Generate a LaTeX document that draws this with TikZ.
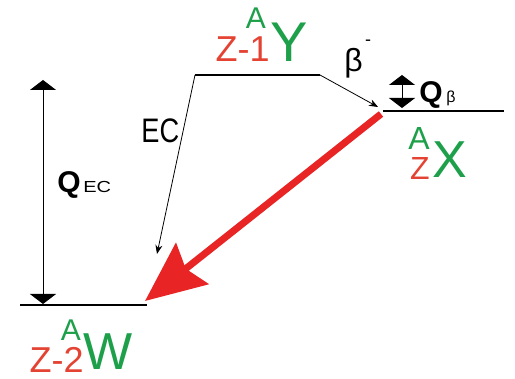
\documentclass[tikz,border=0pt]{standalone}
\usepackage{fontspec}
\setmainfont{Liberation Sans}
\newfontfamily\narrowfont[FakeStretch=0.8]{Liberation Sans}
\newfontfamily\widefont[FakeStretch=1.25]{Liberation Sans}
\usetikzlibrary{positioning,arrows.meta}
\definecolor{nucgreen}{RGB}{30,160,75}
\definecolor{nucred}{RGB}{228,66,50}
\definecolor{decayred}{RGB}{232,36,36}

\begin{document}
\begin{tikzpicture}[x=0.5pt,y=-0.5pt,
  lvl/.style={line width=1pt},
  fine/.style={-{Stealth[length=4.5pt,width=3.5pt]},line width=0.4pt},
  qarr/.style={{Triangle[width=13pt,length=5pt]}-{Triangle[width=13pt,length=5pt]},line width=0.5pt},
  decay/.style={-{Stealth[length=30pt,width=26pt,inset=4pt]},line width=3.5pt,draw=decayred},
  elem/.style={inner sep=0pt,text=nucgreen,font=\fontsize{26}{26}\selectfont},
  mass/.style={inner sep=0pt,text=nucgreen,font=\fontsize{15}{15}\selectfont},
  charge/.style={inner sep=0pt,text=nucred,font=\fontsize{18}{18}\selectfont},
  qlab/.style={inner sep=0pt,font=\bfseries\fontsize{15}{15}\selectfont},
  sub/.style={inner sep=0pt,font=\fontsize{8}{8}\selectfont},
]
\useasboundingbox (0,0) rectangle (515,379);

% Energy levels
\coordinate (Wl) at (20,305);  \coordinate (Wr) at (147,305);
\coordinate (Xl) at (383,111); \coordinate (Xr) at (504,111);
\coordinate (Yl) at (195,75);  \coordinate (Yr) at (320,75);
\draw[lvl] (Wl) -- (Wr);
\draw[lvl] (Xl) -- (Xr);
\draw[line width=0.6pt] (Yl) -- (Yr);

% Decay arrows
\coordinate (ECend) at (157,254);
\coordinate (Xstart) at (381,114);
\coordinate (Wtip) at (145,301);
\draw[fine] (Yl) -- (ECend);
\draw[fine] (Yr) -- (378,107);
\draw[decay] (Xstart) -- (Wtip);

% Q values
\coordinate (QECtop) at (43,80);  \coordinate (QECbot) at (43,304);
\coordinate (Qbtop) at (402,75);  \coordinate (Qbbot) at (402,108);
\draw[qarr] (QECtop) -- (QECbot);
\draw[qarr] (Qbtop) -- (Qbbot);
\node[qlab,anchor=base west] (QEC) at (57,193) {Q};
\node[sub,anchor=base west,font=\widefont\fontsize{8}{8}\selectfont] (QECsub) at (83,193) {EC};
\node[qlab,anchor=base west] (Qb) at (419,103) {Q};
\node[sub,anchor=base west] (Qbsub) at (446,103) {β};

% Transition labels
\node[inner sep=0pt,anchor=base west,font=\narrowfont\fontsize{17}{17}\selectfont] (EC) at (141,143) {EC};
\node[inner sep=0pt,anchor=base west,font=\fontsize{16}{16}\selectfont] (beta) at (344,72) {β};
\node[inner sep=0pt,anchor=center,font=\fontsize{9}{9}\selectfont] (betam) at (368,43) {-};

% Nuclides
\node[elem,anchor=base west,font=\fontsize{28}{28}\selectfont] (Y) at (270,62) {Y};
\node[charge,anchor=base east] (Ych) at (Y.base west) {Z-1};
\node[mass,anchor=base] (Yma) at (256,29) {A};

\node[elem,anchor=base west] (X) at (432,178) {X};
\node[charge,anchor=base,font=\fontsize{16}{16}\selectfont] (Xch) at (420,180) {Z};
\node[mass,anchor=base,font=\fontsize{16}{16}\selectfont] (Xma) at (419,150) {A};

\node[elem,anchor=base west] (W) at (83,370) {W};
\node[charge,anchor=base east] (Wch) at (84,373) {Z-2};
\node[mass,anchor=base] (Wma) at (71,341) {A};
\end{tikzpicture}
\end{document}
